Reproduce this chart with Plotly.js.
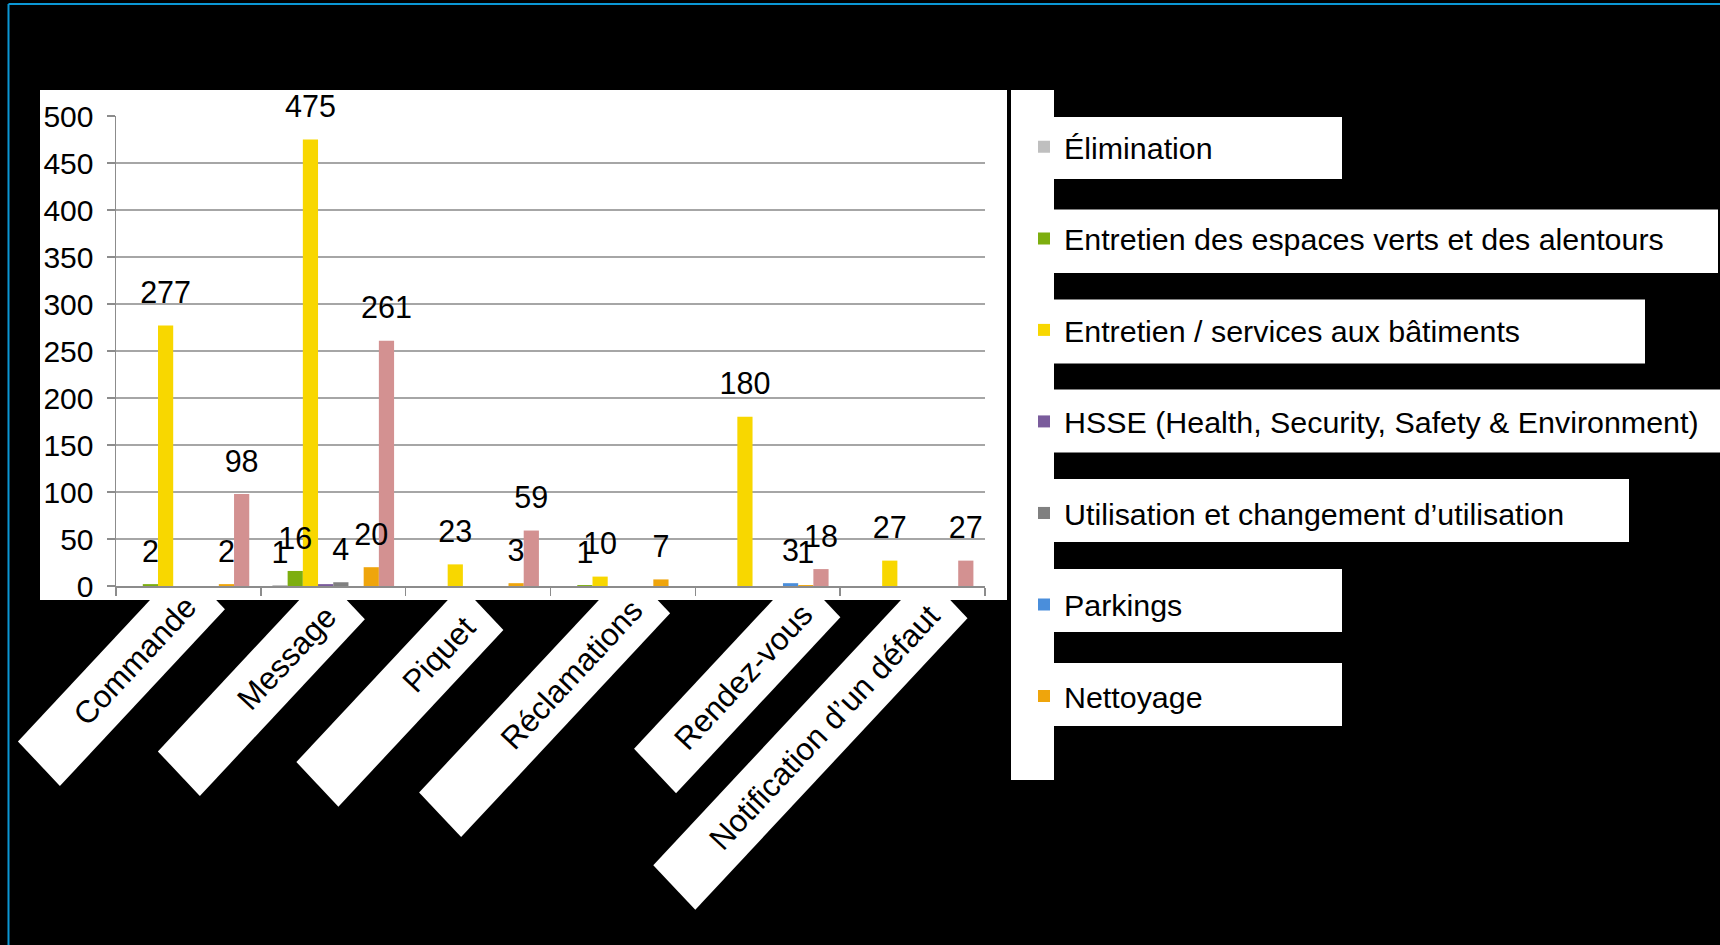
<!DOCTYPE html>
<html>
<head>
<meta charset="utf-8">
<script src="https://cdn.plot.ly/plotly-3.0.1.min.js"></script>
<style>
html,body{margin:0;padding:0;background:#000;overflow:hidden}
#chart{width:1720px;height:945px}
</style>
</head>
<body>
<div id="chart"></div>
<script>
// ---------- data ----------
const categories = ['Commande', 'Message', 'Piquet', 'Réclamations', 'Rendez-vous', 'Notification d’un défaut'];
const seriesNames = [
  'Élimination',
  'Entretien des espaces verts et des alentours',
  'Entretien / services aux bâtiments',
  'HSSE (Health, Security, Safety & Environment)',
  'Utilisation et changement d’utilisation',
  'Parkings',
  'Nettoyage',
  'Autres'
];
const elimination       = [null, 1, null, null, null, null];
const espacesVerts      = [2, 16, null, 1, null, null];
const servicesBatiments = [277, 475, 23, 10, 180, 27];
const hsse              = [null, 2, null, null, null, null];
const utilisation       = [null, 4, null, null, null, null];
const parkings          = [null, null, null, null, 3, null];
const nettoyage         = [2, 20, 3, 7, 1, null];
const autres            = [98, 261, 59, null, 18, 27];
const seriesValues = [elimination, espacesVerts, servicesBatiments, hsse, utilisation, parkings, nettoyage, autres];
const yTickValues = [0, 50, 100, 150, 200, 250, 300, 350, 400, 450, 500];

// ---------- styles ----------
const colors = ['#BFBFBF', '#7DAE0F', '#F8D700', '#7A5C9C', '#808080', '#4A8EDB', '#EFA50C', '#D39191'];
const showLabels = [true, true, true, false, true, true, true, true];
const inLegend = [true, true, true, true, true, true, true, false];
const FONT = 'Liberation Sans, Arial, sans-serif';

// page geometry (px)
const W = 1720, H = 945;
const PL = 116, PR = 985.5, PT = 115.5, PB = 586;

// shape helper: rectangle given in page pixels, expressed relative to plot corner
function pxRect(x0, y0, x1, y1, color, layer) {
  return {type: 'rect', xref: 'paper', yref: 'paper', xsizemode: 'pixel', ysizemode: 'pixel',
    xanchor: 0, yanchor: 0, x0: x0 - PL, x1: x1 - PL, y0: PB - y0, y1: PB - y1,
    fillcolor: color, line: {width: 0}, layer: layer || 'below'};
}
function pxLine(x0, y0, x1, y1, color, w) {
  return {type: 'line', xref: 'paper', yref: 'paper', xsizemode: 'pixel', ysizemode: 'pixel',
    xanchor: 0, yanchor: 0, x0: x0 - PL, x1: x1 - PL, y0: PB - y0, y1: PB - y1,
    line: {color: color, width: w}, layer: 'above'};
}

// category label boxes (offsets from category centre on the axis, px)
const boxBrDx = [36.5, 31.6, 25.3, 47.2, 72.6, 54.9];
const boxBrDy = [23.3, 33.3, 44.0, 27.3, 31.3, 32.3];
const boxRun  = [165, 165, 165, 209, 164.3, 272.2];
const boxSlope = 1.071;
const boxShort = [-42, -44.6];
const labelAngle = -47;
const labelPad = 19;

const shapes = [];
const annotations = [];
categories.forEach((c, i) => {
  const run = boxRun[i], rise = run * boxSlope;
  const br = [boxBrDx[i], boxBrDy[i]];
  const tr = [br[0] + boxShort[0], br[1] + boxShort[1]];
  const tl = [tr[0] - run, tr[1] + rise];
  const bl = [br[0] - run, br[1] + rise];
  const pts = [bl, br, tr, tl].map(p => p[0].toFixed(1) + ',' + (-p[1]).toFixed(1));
  shapes.push({type: 'path', xref: 'paper', yref: 'paper', xsizemode: 'pixel', ysizemode: 'pixel',
    xanchor: (i + 0.5) / categories.length, yanchor: 0,
    path: 'M' + pts.join('L') + 'Z', fillcolor: '#FFFFFF', line: {width: 0}, layer: 'below'});
  const cx = br[0] + boxShort[0] / 2 - run / 2;
  const cy = br[1] + boxShort[1] / 2 + rise / 2;
  annotations.push({x: c, xref: 'x', y: 0, yref: 'y', xshift: cx, yshift: -cy,
    text: c, showarrow: false, textangle: labelAngle, xanchor: 'center', yanchor: 'middle',
    width: Math.hypot(run, rise) - 2 * labelPad, align: 'right',
    font: {family: FONT, size: 31.5, color: '#000'}});
});

// white chart area (drawn over the tops of the label boxes)
shapes.push(pxRect(40, 90, 1007, 600, '#FFFFFF'));
// legend strip and entry boxes
shapes.push(pxRect(1011, 90, 1054, 780, '#FFFFFF'));
const legBoxRight = [1342, 1718, 1645, 1720, 1629, 1342, 1342];
const legBoxTop   = [117, 209.5, 299.5, 389.5, 479, 569, 663];
const legBoxBot   = [179, 273, 363.5, 452.5, 542, 632, 726];
legBoxRight.forEach((r, k) => shapes.push(pxRect(1054, legBoxTop[k], r, legBoxBot[k], '#FFFFFF')));
// blue frame
shapes.push(pxLine(8.5, 4, 1720, 4, '#0B97D5', 2));
shapes.push(pxLine(8.5, 4, 8.5, 945, '#0B97D5', 2));

// ---------- traces ----------
const traces = [];
seriesNames.forEach((name, s) => {
  traces.push({
    type: 'bar', name: name, x: categories, y: seriesValues[s],
    marker: {color: colors[s], line: {width: 0}},
    showlegend: inLegend[s], legendgroup: 'g' + s,
    hoverinfo: 'x+y+name'
  });
});
// value labels, grouped like the bars
seriesNames.forEach((name, s) => {
  traces.push({
    type: 'scatter', mode: 'markers+text', name: name + ' (valeurs)',
    x: categories, y: seriesValues[s],
    text: seriesValues[s].map(v => (v === null || !showLabels[s]) ? '' : String(v)),
    textposition: 'top center',
    textfont: {family: FONT, size: 30.5, color: '#000'},
    marker: {size: 22, color: 'rgba(0,0,0,0)'},
    showlegend: false, hoverinfo: 'skip', cliponaxis: false
  });
});

const layout = {
  width: W, height: H,
  margin: {l: PL, r: W - PR, t: PT, b: H - PB, autoexpand: false},
  paper_bgcolor: '#000000', plot_bgcolor: 'rgba(0,0,0,0)',
  font: {family: FONT, size: 30, color: '#000'},
  barmode: 'group', bargap: 0.16, bargroupgap: 0,
  scattermode: 'group', scattergap: 0.16,
  xaxis: {type: 'category', categoryorder: 'array', categoryarray: categories,
    range: [-0.5, categories.length - 0.5], showticklabels: false,
    ticks: 'outside', tickson: 'boundaries', ticklen: 8, tickwidth: 1.5, tickcolor: '#8C8C8C',
    showline: true, linecolor: '#8C8C8C', linewidth: 1.5, showgrid: false, zeroline: false, fixedrange: true},
  yaxis: {range: [0, 500], tickvals: yTickValues, ticktext: yTickValues.map(String),
    ticks: 'outside', ticklen: 8, tickwidth: 1.5, tickcolor: '#8C8C8C',
    showline: true, linecolor: '#8C8C8C', linewidth: 1.5,
    showgrid: true, gridcolor: '#A6A6A6', gridwidth: 1.5, zeroline: false,
    tickfont: {family: FONT, size: 30, color: '#000'}, ticklabelstandoff: 7, fixedrange: true},
  legend: {xref: 'container', yref: 'container', x: 1024 / W, y: 1 - 120.6 / H,
    xanchor: 'left', yanchor: 'top', bgcolor: 'rgba(0,0,0,0)', borderwidth: 0,
    traceorder: 'grouped', tracegroupgap: 49, maxheight: 900,
    font: {family: FONT, size: 30.4, color: '#000'}},
  shapes: shapes,
  annotations: annotations
};

Plotly.newPlot('chart', traces, layout, {displayModeBar: false, staticPlot: true});
</script>
</body>
</html>
